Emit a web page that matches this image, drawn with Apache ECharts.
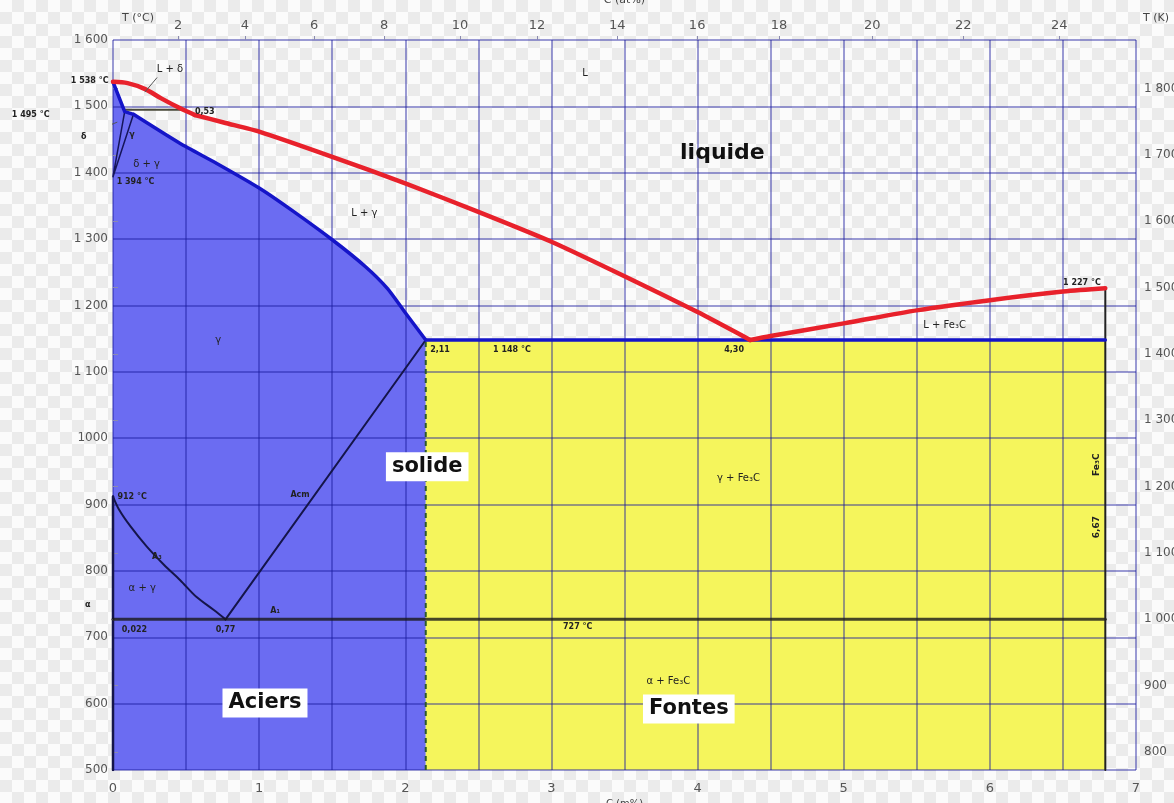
<!DOCTYPE html>
<html>
<head>
<meta charset="utf-8">
<script src="https://cdn.jsdelivr.net/npm/echarts@6/dist/echarts.min.js"></script>
<style>
  html, body { margin: 0; padding: 0; }
  #chart {
    width: 1174px; height: 803px;
    background: repeating-conic-gradient(#ebebeb 0% 25%, #fbfbfb 0% 50%) 0 0 / 24px 24px;
  }
</style>
</head>
<body>
<div id="chart"></div>
<script>
// key compositions (m% C) and temperatures (°C) as read on the picture
const eutectoidC = 0.77
const austeniteMaxC = 2.14
const cementiteC = 6.79
const eutecticT = 1148
const eutectoidT = 727
const peritecticT = 1495
const a4T = 1394
const a3T0 = 912
const baseT = 500

// liquidus (red), in three pieces
const liquidusDeltaC = [0, 0.1, 0.22, 0.33, 0.46, 0.56]
const liquidusDeltaT = [1537, 1535, 1526, 1512, 1497, 1487]
const liquidusGammaC = [0.56, 0.77, 1.0, 1.5, 2.0, 2.5, 3.0, 3.5, 4.0, 4.36]
const liquidusGammaT = [1487, 1475, 1462, 1424, 1384, 1341, 1296, 1244, 1190, 1148]
const liquidusCemC = [4.36, 4.5, 5.0, 5.51, 6.0, 6.5, 6.79]
const liquidusCemT = [1148, 1154, 1173, 1193, 1208, 1221, 1226]

// solidus (blue): delta part then gamma part
const solidusDeltaC = [0, 0.08, 0.14]
const solidusDeltaT = [1537, 1492, 1488]
const solidusGammaC = [0.14, 0.46, 0.71, 1.0, 1.22, 1.5, 1.73, 1.88, 2.0, 2.14]
const solidusGammaT = [1488, 1444, 1414, 1377, 1344, 1299, 1258, 1225, 1189, 1148]

// A3 line
const a3C = [0, 0.04, 0.12, 0.23, 0.35, 0.46, 0.57, 0.69, 0.77]
const a3T = [912, 893, 867, 837, 809, 786, 761, 741, 727]

// axis ticks
const kelvinTicks = [800, 900, 1000, 1100, 1200, 1300, 1400, 1500, 1600, 1700, 1800]
const atPercent = [2, 4, 6, 8, 10, 12, 14, 16, 18, 20, 22, 24]
const atTickPos = [0.445, 0.903, 1.376, 1.855, 2.375, 2.902, 3.45, 3.997, 4.558, 5.195, 5.818, 6.475]

// annotations: [m% C, °C, text, kind]
const notes = [
  [0.39, 1555, 'L + δ', 's'],
  [3.23, 1550, 'L', 's'],
  [4.17, 1430, 'liquide', 'B'],
  [1.72, 1339, 'L + γ', 's'],
  [0.72, 1148, 'γ', 's'],
  [2.16, 1133, '2,11', 'tL'],
  [2.73, 1133, '1 148 °C', 't'],
  [4.25, 1133, '4,30', 't'],
  [5.69, 1170, 'L + Fe₃C', 's'],
  [6.63, 1234, '1 227 °C', 't'],
  [2.15, 957, 'solide', 'b'],
  [4.28, 940, 'γ + Fe₃C', 's'],
  [6.73, 960, 'Fe₃C', 'v'],
  [6.73, 866, '6,67', 'v'],
  [0.02, 911, '912 °C', 'tL'],
  [0.3, 821, 'A₃', 't'],
  [1.28, 914, 'Acm', 't'],
  [0.2, 774, 'α + γ', 's'],
  [0.05, 711, '0,022', 'tL'],
  [0.77, 711, '0,77', 't'],
  [1.11, 740, 'A₁', 't'],
  [3.18, 715, '727 °C', 't'],
  [3.8, 634, 'α + Fe₃C', 's'],
  [1.04, 601, 'Aciers', 'b'],
  [3.94, 592, 'Fontes', 'b'],
  [0.13, 1457, 'γ', 't'],
  [0.23, 1412, 'δ + γ', 's'],
  [0.015, 1386, '1 394 °C', 'tL'],
  [0.55, 1491, '0,53', 'tL'],
  [0, 1538, '1 538 °C', 'o4'],
  [0, 1487, '1 495 °C', 'o63'],
  [0, 1454, 'δ', 'o26'],
  [0, 748, 'α', 'o22']
]

// leader lines
const leaders = [
  [[0.3, 1543], [0.22, 1522]],
  [[-0.397, 1487], [-0.28, 1487]],
  [[-0.157, 1460], [0.027, 1476]],
  [[-0.123, 741], [0, 726]]
]

const pts = (xs, ys) => xs.map((x, i) => [x, ys[i]])
const gridColor = 'rgba(30,30,160,0.58)'
const font = 'DejaVu Sans'

const blueRegion = pts(solidusDeltaC, solidusDeltaT)
  .concat(pts(solidusGammaC, solidusGammaT).slice(1))
  .concat([[austeniteMaxC, baseT], [0, baseT]])
const yellowRegion = [[austeniteMaxC, eutecticT], [cementiteC, eutecticT], [cementiteC, baseT], [austeniteMaxC, baseT]]

function area(points, fill) {
  return {
    type: 'custom',
    coordinateSystem: 'cartesian2d',
    silent: true,
    z: 1,
    data: [points[0]],
    renderItem: (params, api) => ({
      type: 'polygon',
      shape: { points: points.map(p => api.coord(p)) },
      style: { fill: fill }
    })
  }
}

function line(data, color, width, extra) {
  return Object.assign({
    type: 'line',
    data: data,
    symbol: 'none',
    silent: true,
    z: 5,
    lineStyle: { color: color, width: width, cap: 'round', join: 'round' }
  }, extra || {})
}

function noteLabel(kind, text) {
  const base = { show: true, formatter: text, color: '#222', fontFamily: font, position: 'inside' }
  if (kind === 's') return Object.assign(base, { fontSize: 10 })
  if (kind === 't') return Object.assign(base, { fontSize: 8, fontWeight: 'bold' })
  if (kind === 'tL') return Object.assign(base, { fontSize: 8, fontWeight: 'bold', position: 'right', distance: 1 })
  if (kind === 'v') return Object.assign(base, { fontSize: 9, fontWeight: 'bold', rotate: 90 })
  if (kind === 'B') return Object.assign(base, { fontSize: 22, fontWeight: 'bold', color: '#111' })
  if (kind === 'b') return Object.assign(base, { fontSize: 21, fontWeight: 'bold', color: '#111', backgroundColor: '#fff', padding: [4, 6] })
  // outside, left of the axis
  return Object.assign(base, { fontSize: 8, fontWeight: 'bold', position: 'left', distance: Number(kind.slice(1)) })
}

const chart = echarts.init(document.getElementById('chart'))

chart.setOption({
  animation: false,
  backgroundColor: 'transparent',
  grid: { left: 113, right: 38, top: 40, bottom: 33, containLabel: false, outerBoundsMode: 'none' },
  graphic: [
    { type: 'text', left: 122, top: 13, style: { text: 'T (°C)', fill: '#444', fontSize: 11, fontFamily: font } },
    { type: 'text', left: 1143, top: 13, style: { text: 'T (K)', fill: '#444', fontSize: 11, fontFamily: font } }
  ],
  xAxis: [
    {
      type: 'value', position: 'bottom', min: 0, max: 7, interval: 0.5, z: 3,
      axisLine: { show: false }, axisTick: { show: false },
      axisLabel: {
        formatter: v => (Number.isInteger(v) ? String(v) : ''),
        color: '#555', fontSize: 13, fontFamily: font, margin: 12
      },
      splitLine: { lineStyle: { color: gridColor, width: 1.5 } },
      name: 'C (m%)', nameLocation: 'middle', nameGap: 26,
      nameTextStyle: { color: '#444', fontSize: 10, fontFamily: font }
    },
    {
      type: 'value', position: 'top', min: 0, max: 7, z: 3,
      axisLine: { show: false },
      axisTick: { show: true, customValues: atTickPos, length: 4, lineStyle: { color: '#8a8ab0' } },
      axisLabel: {
        customValues: atTickPos,
        formatter: v => {
          const i = atTickPos.findIndex(p => Math.abs(p - v) < 1e-6)
          return i < 0 ? '' : String(atPercent[i])
        },
        color: '#555', fontSize: 13, fontFamily: font, margin: 8
      },
      splitLine: { show: false },
      name: 'C (at%)', nameLocation: 'middle', nameGap: 34,
      nameTextStyle: { color: '#444', fontSize: 11, fontFamily: font }
    }
  ],
  yAxis: [
    {
      type: 'value', min: 500, max: 1600, interval: 100, z: 3,
      axisLine: { show: false }, axisTick: { show: false },
      axisLabel: {
        formatter: v => (v > 1000 ? '1 ' + String(v).slice(1) : String(v)),
        color: '#555', fontSize: 12, fontFamily: font, margin: 5
      },
      splitLine: { lineStyle: { color: gridColor, width: 1.5 } }
    },
    {
      type: 'value', position: 'right', min: 773, max: 1873, z: 3,
      axisLine: { show: false },
      axisTick: { show: true, customValues: kelvinTicks, length: 5, lineStyle: { color: '#8a8ab0' } },
      axisLabel: {
        customValues: kelvinTicks,
        formatter: v => (v >= 1000 ? '1 ' + String(v).slice(1) : String(v)),
        color: '#555', fontSize: 12, fontFamily: font, margin: 8
      },
      splitLine: { show: false }
    }
  ],
  series: [
    area(blueRegion, '#6b6cf2'),
    area(yellowRegion, '#f5f55c'),
    line([[0.08, peritecticT], [0.5, peritecticT]], '#4a4a3a', 2, { z: 4 }),
    line([[0.08, 1492], [0, a4T], [0.14, 1488]], '#15155a', 1.5),
    line([[0, baseT], [0, a3T0]], '#15154a', 2.5),
    line(pts(a3C, a3T), '#15154a', 2, { smooth: 0.3 }),
    line([[eutectoidC, eutectoidT], [austeniteMaxC, eutecticT]], '#15154a', 2),
    line([[0, eutectoidT], [cementiteC, eutectoidT]], 'rgba(25,25,25,0.8)', 3),
    line([[austeniteMaxC, baseT], [austeniteMaxC, eutecticT]], '#2d5a2d', 2, { lineStyle: { color: '#2d5a2d', width: 2, type: [5, 4] } }),
    line([[cementiteC, baseT], [cementiteC, liquidusCemT[liquidusCemT.length - 1]]], '#222', 2),
    line(pts(solidusDeltaC, solidusDeltaT), '#1515c8', 3.5, { z: 6 }),
    line(pts(solidusGammaC, solidusGammaT), '#1515c8', 3.5, { z: 6, smooth: 0.2 }),
    line([[austeniteMaxC, eutecticT], [cementiteC, eutecticT]], '#1515c8', 3.5, { z: 6 }),
    line(pts(liquidusDeltaC, liquidusDeltaT), '#e8212b', 4.5, { z: 7, smooth: 0.3 }),
    line(pts(liquidusGammaC, liquidusGammaT), '#e8212b', 4.5, { z: 7, smooth: 0.2 }),
    line(pts(liquidusCemC, liquidusCemT), '#e8212b', 4.5, { z: 7, smooth: 0.3 })
  ].concat(leaders.map(l => line(l, '#555', 1, { clip: false, z: 7 }))).concat([
    {
      type: 'scatter',
      symbolSize: 1,
      itemStyle: { color: 'rgba(0,0,0,0)', opacity: 1 },
      clip: false,
      silent: true,
      z: 8,
      data: notes.map(n => ({ value: [n[0], n[1]], label: noteLabel(n[3], n[2]) }))
    }
  ])
})
</script>
</body>
</html>
